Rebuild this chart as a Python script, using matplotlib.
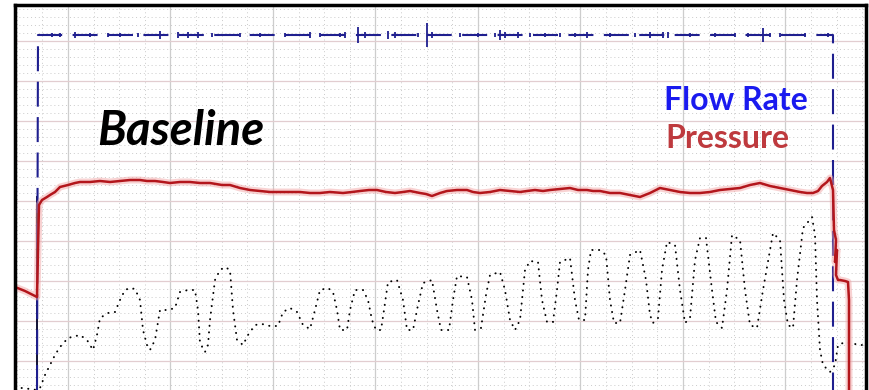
import numpy as np
import matplotlib.pyplot as plt
from matplotlib.ticker import MultipleLocator

# strip-chart recording, baseline run
# time axis: chart units from left edge, values: chart units from bottom edge

p_t = [0, 10, 20, 22, 23, 24, 27, 32, 35, 40, 45, 53, 60, 65, 75, 85, 95, 105, 115, 125,
       132, 140, 148, 155, 165, 175, 185, 195, 201, 207, 215, 225, 235, 245, 255, 265, 275,
       285, 295, 305, 315, 328, 337, 345, 354, 362, 371, 380, 388, 395, 405, 411, 417, 425,
       432, 442, 452, 458, 465, 475, 485, 495, 505, 512, 520, 528, 535, 545, 555, 563, 572,
       578, 585, 595, 605, 615, 625, 635, 645, 655, 665, 675, 685, 695, 705, 715, 725, 735,
       745, 755, 765, 775, 785, 792, 798, 803, 807, 812, 815, 818, 819, 821, 820, 822, 821,
       823, 825, 830, 833, 834, 834]
p_v = [103, 99, 94, 93, 140, 185, 190, 193, 195, 198, 203, 205, 207, 208, 208, 209, 208, 209,
       210, 210, 209, 209, 208, 207, 208, 208, 207, 207, 206, 205, 205, 202, 200, 199, 198,
       198, 198, 198, 197, 197, 198, 197, 198, 199, 200, 200, 198, 197, 198, 199, 197, 196,
       194, 197, 199, 200, 200, 198, 197, 198, 200, 199, 198, 199, 200, 199, 200, 201, 202,
       200, 200, 199, 199, 197, 197, 195, 193, 197, 202, 200, 198, 197, 197, 198, 200, 201,
       202, 205, 207, 204, 202, 200, 198, 197, 197, 199, 204, 208, 212, 200, 160, 150, 128,
       140, 115, 110, 110, 109, 108, 90, 0]

flow_t = [22, 23, 803, 818, 818]
flow_v = [0, 355, 355, 355, 0]
spike_t = [37, 45, 60, 75, 93, 105, 123, 145, 163, 173, 183, 197, 225, 245, 270, 295, 305,
           325, 330, 343, 350, 373, 380, 403, 412, 417, 445, 463, 480, 485, 490, 503, 515,
           530, 545, 560, 572, 595, 620, 635, 648, 653, 675, 700, 720, 733, 748, 755, 765,
           790, 813]
spike_h = [2, 2, 3, 2, 2, 2, 2, 4, 3, 3, 3, 2, 2, 2, 2, 3, 2, 2, 3, 8, 3, 4, 3, 2, 12, 3,
           2, 2, 2, 5, 3, 3, 2, 2, 2, 2, 3, 2, 2, 3, 3, 3, 2, 2, 2, 2, 7, 2, 2, 2, 2]

event_t = [22, 22]
event_v = [0, 193]

d_t = [0, 7, 15, 22, 25, 30, 35, 40, 45, 53, 65, 72, 78, 82, 85, 93, 100, 105, 110, 115, 120,
       125, 128, 132, 135, 140, 145, 153, 160, 165, 173, 180, 183, 185, 190, 193, 195, 200,
       205, 210, 215, 218, 222, 228, 233, 240, 247, 255, 263, 268, 275, 282, 288, 295, 300,
       305, 313, 318, 322, 325, 332, 335, 340, 348, 353, 357, 361, 366, 369, 373, 382, 388,
       392, 398, 403, 408, 417, 422, 426, 434, 438, 442, 452, 457, 460, 466, 471, 475, 485,
       490, 495, 500, 505, 510, 515, 523, 527, 532, 538, 542, 545, 555, 560, 564, 570, 573,
       576, 585, 591, 595, 599, 605, 610, 615, 625, 631, 635, 638, 643, 647, 652, 660, 665,
       670, 675, 680, 685, 691, 697, 701, 707, 712, 717, 725, 730, 735, 742, 748, 758, 765,
       769, 773, 778, 782, 788, 793, 797, 800, 802, 805, 808, 815, 820, 823, 828, 835, 845, 851]
d_v = [2, 2, 1, 0, 2, 15, 25, 35, 43, 52, 55, 50, 40, 55, 72, 77, 78, 90, 100, 102, 101, 90,
       60, 45, 40, 50, 80, 80, 82, 98, 100, 100, 80, 47, 38, 45, 70, 110, 120, 123, 120, 80,
       50, 45, 55, 65, 66, 64, 64, 78, 82, 78, 65, 61, 80, 100, 102, 98, 80, 60, 60, 80, 100,
       100, 90, 70, 60, 60, 80, 108, 110, 90, 60, 60, 85, 107, 110, 80, 60, 60, 90, 114, 113,
       90, 60, 62, 95, 115, 118, 100, 70, 60, 70, 120, 129, 128, 90, 68, 68, 100, 128, 132,
       90, 70, 70, 120, 140, 140, 135, 90, 67, 67, 100, 135, 140, 110, 75, 67, 72, 120, 148,
       145, 100, 67, 72, 130, 152, 152, 100, 68, 62, 100, 155, 150, 100, 65, 62, 100, 157,
       150, 90, 65, 62, 110, 162, 168, 173, 155, 90, 40, 25, 18, 25, 45, 47, 47, 45, 45]

fig = plt.figure(figsize=(8.7, 3.9), dpi=100)
ax = fig.add_axes([15 / 870, 0, 851 / 870, 385 / 390])
ax.set_xlim(0, 851)
ax.set_ylim(0, 385)

# chart paper
ax.xaxis.set_major_locator(MultipleLocator(102.5, offset=53))
ax.yaxis.set_major_locator(MultipleLocator(40, offset=29))
ax.xaxis.set_minor_locator(MultipleLocator(25.625, offset=53))
ax.yaxis.set_minor_locator(MultipleLocator(8, offset=29))
ax.tick_params(which='both', length=0, labelbottom=False, labelleft=False)
ax.grid(which='major', axis='x', color='#cdcdcd', lw=0.9)
ax.grid(which='major', axis='y', color='#e2cdd0', lw=0.9)
ax.grid(which='minor', color='#cacaca', lw=0.7, ls=(0, (1, 3)))
ax.set_axisbelow(True)
for s in ['top', 'left', 'right']:
    ax.spines[s].set_linewidth(2.5)
ax.spines['bottom'].set_visible(False)

# dotted trace
ax.plot(d_t, d_v, color='black', lw=1.4, ls=(0, (0.1, 3.3)), dash_capstyle='round')

# flow rate
ax.plot(event_t, event_v, color='#111133', lw=1.4)
ax.plot(flow_t, flow_v, color='#1f1f8f', lw=1.5, ls=(0, (12, 5)))
ax.vlines(spike_t, 355 - np.array(spike_h), 355 + np.array(spike_h), color='#1f1f8f', lw=1.3)

# pressure
ax.plot(p_t, p_v, color='#f2a6a6', lw=5, alpha=0.5, solid_joinstyle='round')
ax.plot(p_t, p_v, color='#b3161c', lw=1.8, solid_joinstyle='round')

ax.text(82, 245, 'Baseline', fontsize=34, fontweight='bold', fontstyle='italic',
        family='Lato', color='black', ha='left', va='baseline')
ax.text(649, 280, 'Flow Rate', fontsize=23, fontweight='bold', family='Lato',
        color='#1a1aef', ha='left', va='baseline')
ax.text(650, 242, 'Pressure', fontsize=23, fontweight='bold', family='Lato',
        color='#be3a3e', ha='left', va='baseline')

fig.savefig('out.png', dpi=100)
